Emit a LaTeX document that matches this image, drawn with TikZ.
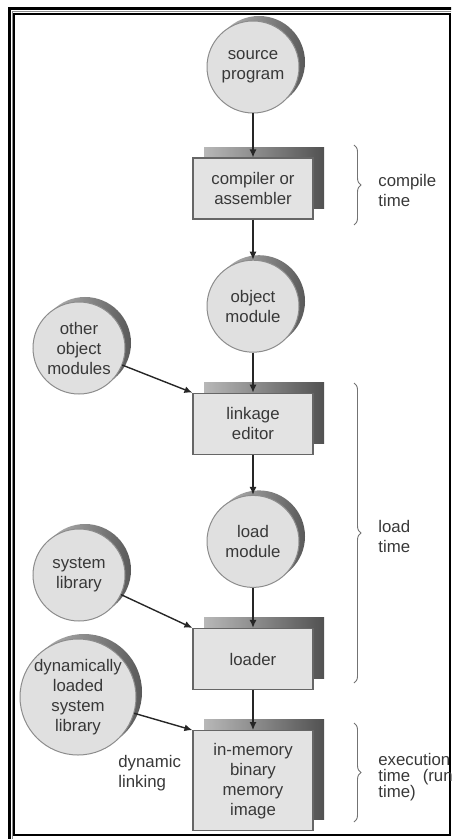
\documentclass[tikz,border=0pt]{standalone}
\usepackage{fontspec}
\setmainfont{Liberation Sans}
\usetikzlibrary{positioning,arrows.meta,decorations.pathreplacing}

\begin{document}
\begin{tikzpicture}[
  x=0.5pt, y=-0.5pt,
  font=\fontsize{8.4}{10}\selectfont,
  >={Latex[length=4pt,width=3.5pt]},
  every node/.style={text=black!78},
  file/.style={circle, draw=black!45, line width=0.5pt, fill=black!12, minimum size=46pt, inner sep=0pt, align=center,
    preaction={draw=none, left color=black!25, right color=black!65, transform canvas={xshift=3pt, yshift=2.5pt}}},
  stage/.style={rectangle, draw=black!60, line width=0.6pt, fill=black!11, minimum width=60pt, minimum height=30.5pt, inner sep=2pt, align=center,
    preaction={draw=none, left color=black!28, right color=black!68, transform canvas={xshift=5.5pt, yshift=5.5pt}}},
  arr/.style={->, line width=0.7pt, draw=black!85},
  span/.style={draw=black!55, line width=0.45pt, decorate, decoration={brace, amplitude=3.5pt}},
  note/.style={anchor=west, align=left, inner sep=0pt}
]
\useasboundingbox (0,0) rectangle (451,839);
\clip (0,0) rectangle (451,839);

% ---------------- frame ----------------
\draw[line width=1.5pt] (9.5,8.5) rectangle (470,850);
\draw[black!45, line width=0.5pt] (12.5,11.5) rectangle (470,850);
\draw[line width=1pt] (14,14) rectangle (450,835);

% ---------------- main column ----------------
\node[file] (src) at (253,67) {source\\program};
\node[stage, below=22pt of src] (comp) {compiler or\\assembler};
\node[file, below=20pt of comp] (obj) {object\\module};
\node[stage, below=20pt of obj] (link) {linkage\\editor};
\node[file, below=20pt of link] (load) {load\\module};
\node[stage, below=20pt of load] (ldr) {loader};
\node[stage, below=20pt of ldr, minimum height=50pt] (mem) {in-memory\\binary\\memory\\image};
\draw[arr] (src) -- (comp);
\draw[arr] (comp) -- (obj);
\draw[arr] (obj) -- (link);
\draw[arr] (link) -- (load);
\draw[arr] (load) -- (ldr);
\draw[arr] (ldr) -- (mem);

% ---------------- side inputs ----------------
\node[file] (other) at (79,348) {other\\object\\modules};
\node[file] (syslib) at (79,575) {system\\library};
\node[file, minimum size=58pt] (dynlib) at (78,697) {dynamically\\loaded\\system\\library};
\node[note] (dynlink) at (118,773) {dynamic\\linking};
\draw[arr] (other) -- (link.north west);
\draw[arr] (syslib) -- (ldr.north west);
\draw[arr] (dynlib) -- (mem.north west);

% ---------------- time spans ----------------
\coordinate (ct1) at (354,145);
\coordinate (ct2) at (354,225);
\coordinate (lt1) at (354,383);
\coordinate (lt2) at (354,683);
\coordinate (et1) at (354,723);
\coordinate (et2) at (354,822);
\draw[span] (ct1) -- (ct2);
\draw[span] (lt1) -- (lt2);
\draw[span] (et1) -- (et2);
\node[note] (ctime) at (378,190) {compile\\time};
\node[note] (ltime) at (378,536) {load\\time};
\node[note, font=\fontsize{8.4}{8}\selectfont] (etime) at (378,777) {execution\\time\hspace{4pt} (run\\time)};
\end{tikzpicture}
\end{document}
